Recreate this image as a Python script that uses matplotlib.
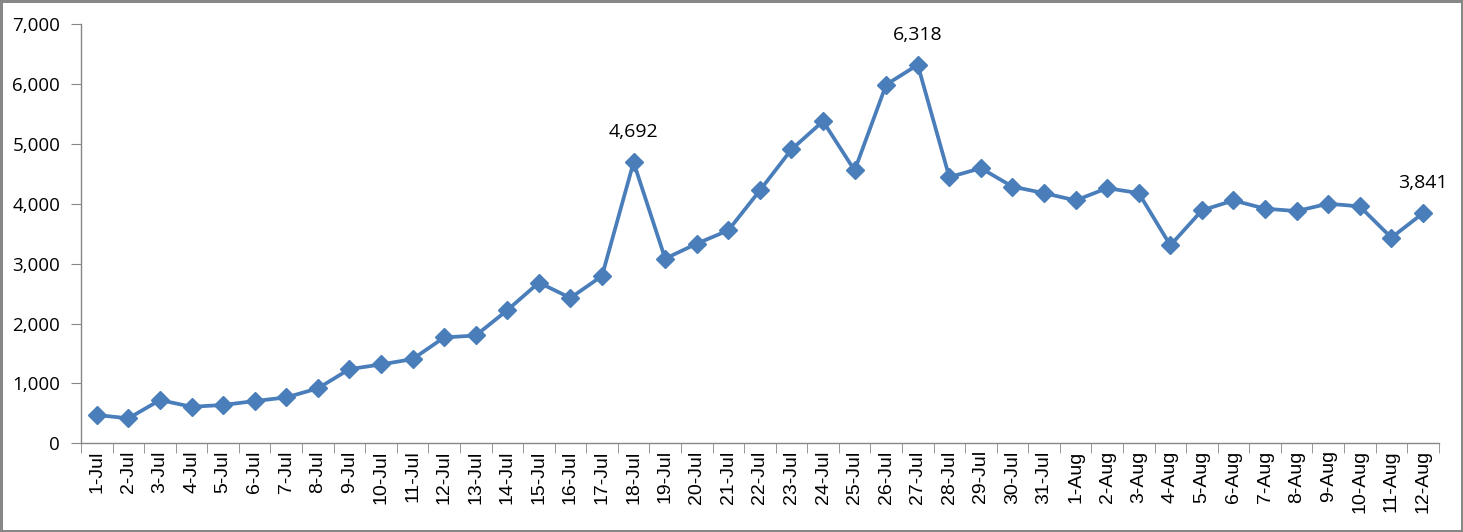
import matplotlib
matplotlib.use('Agg')
import matplotlib.pyplot as plt
from matplotlib.ticker import FuncFormatter, FixedLocator
import numpy as np

## Data
dates = ['1-Jul', '2-Jul', '3-Jul', '4-Jul', '5-Jul', '6-Jul', '7-Jul', '8-Jul', '9-Jul', '10-Jul',
         '11-Jul', '12-Jul', '13-Jul', '14-Jul', '15-Jul', '16-Jul', '17-Jul', '18-Jul', '19-Jul',
         '20-Jul', '21-Jul', '22-Jul', '23-Jul', '24-Jul', '25-Jul', '26-Jul', '27-Jul', '28-Jul',
         '29-Jul', '30-Jul', '31-Jul', '1-Aug', '2-Aug', '3-Aug', '4-Aug', '5-Aug', '6-Aug',
         '7-Aug', '8-Aug', '9-Aug', '10-Aug', '11-Aug', '12-Aug']
values = [472, 417, 722, 610, 640, 705, 767, 917, 1238, 1317,
          1405, 1767, 1800, 2222, 2683, 2427, 2794, 4692, 3083,
          3333, 3555, 4222, 4905, 5377, 4555, 5988, 6318, 4443,
          4593, 4285, 4177, 4055, 4260, 4177, 3305, 3888, 4055,
          3917, 3877, 4000, 3955, 3433, 3841]
labelled = ['18-Jul', '27-Jul', '12-Aug']

blue = '#4A7EBB'
grey = '#868686'

fig = plt.figure(figsize=(14.63, 5.32), dpi=100)
fig.patch.set_edgecolor('#878787')
fig.patch.set_linewidth(2.5)
ax = fig.add_axes([0.0554, 0.1667, 0.928, 0.7882])

x = np.arange(len(dates))
ax.plot(x, values, color=blue, lw=2.7, marker='D', ms=9.5, mfc=blue, mec=blue)

for d in labelled:
    i = dates.index(d)
    ax.annotate('{:,}'.format(values[i]), (x[i], values[i]), xytext=(0, 15),
                textcoords='offset points', ha='center', va='bottom',
                fontsize=14, family='Open Sans')

ax.set_xlim(-0.5, len(dates) - 0.5)
ax.set_ylim(0, 7000)
ax.set_yticks(np.arange(0, 7001, 1000))
ax.yaxis.set_major_formatter(FuncFormatter(lambda v, p: '{:,.0f}'.format(v)))
for t in ax.get_yticklabels():
    t.set_family('Open Sans')
    t.set_fontsize(13.5)

ax.set_xticks(x)
ax.set_xticklabels(dates, rotation=90, fontsize=14, family='Liberation Sans')
ax.tick_params(axis='x', length=0, pad=5)
ax.xaxis.set_minor_locator(FixedLocator(np.arange(-0.5, len(dates), 1)))
ax.tick_params(axis='x', which='minor', length=7, color=grey, direction='out')
ax.tick_params(axis='y', length=7, color=grey, direction='out', pad=8)

for s in ['top', 'right']:
    ax.spines[s].set_visible(False)
for s in ['left', 'bottom']:
    ax.spines[s].set_color(grey)
    ax.spines[s].set_linewidth(1)

fig.savefig('out.png', dpi=100, edgecolor=fig.get_edgecolor())
